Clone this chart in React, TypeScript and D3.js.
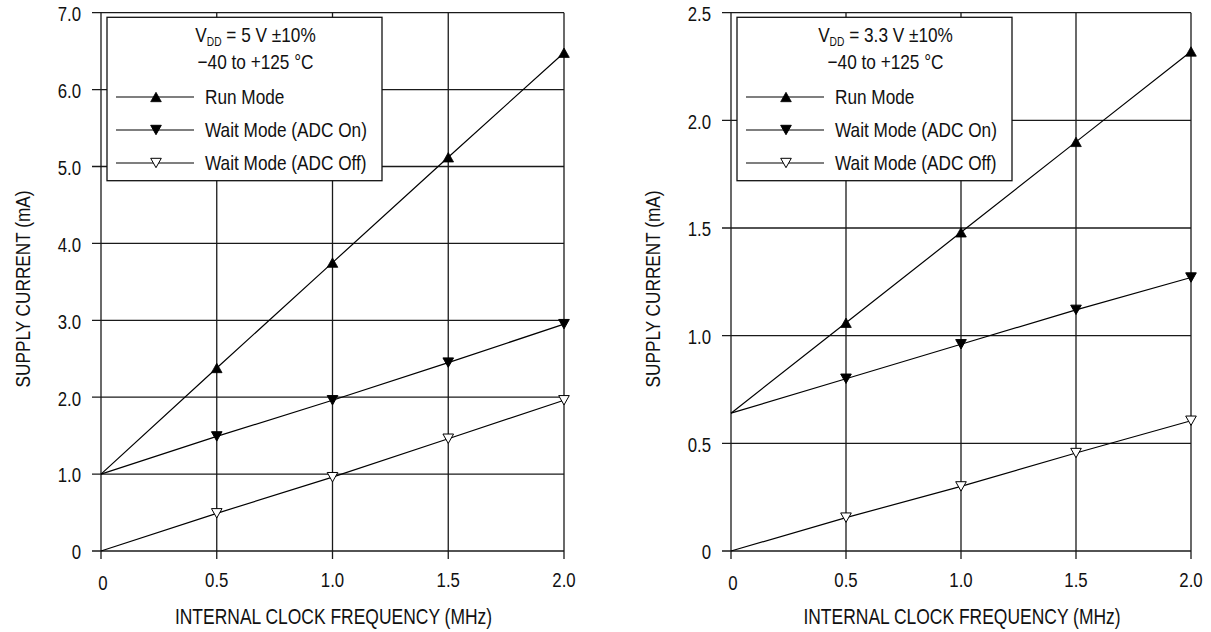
import React from 'react';
import * as d3 from 'd3';

const freqs = [0, 0.5, 1.0, 1.5, 2.0];
const xTicks = [0, 0.5, 1.0, 1.5, 2.0];
const xTickLabels = ['0', '0.5', '1.0', '1.5', '2.0'];

const leftRun = [1.0, 2.38, 3.75, 5.12, 6.48];
const leftWaitOn = [1.0, 1.49, 1.96, 2.45, 2.95];
const leftWaitOff = [0, 0.49, 0.96, 1.46, 1.96];
const leftYTicks = [0, 1, 2, 3, 4, 5, 6, 7];
const leftYTickLabels = ['0', '1.0', '2.0', '3.0', '4.0', '5.0', '6.0', '7.0'];

const rightRun = [0.64, 1.06, 1.48, 1.90, 2.32];
const rightWaitOn = [0.64, 0.80, 0.96, 1.12, 1.27];
const rightWaitOff = [0, 0.155, 0.30, 0.455, 0.605];
const rightYTicks = [0, 0.5, 1.0, 1.5, 2.0, 2.5];
const rightYTickLabels = ['0', '0.5', '1.0', '1.5', '2.0', '2.5'];

const seriesNames = ['Run Mode', 'Wait Mode (ADC On)', 'Wait Mode (ADC Off)'];
const markerKinds = ['up', 'down', 'downOpen'];

const FONT = "'Liberation Sans',Arial,sans-serif";
const SX = 0.82;

function NText({
  x,
  y,
  size,
  anchor = 'start',
  rotate = 0,
  children,
}: {
  x: number;
  y: number;
  size: number;
  anchor?: string;
  rotate?: number;
  children: React.ReactNode;
}) {
  return (
    <text
      transform={`translate(${x},${y}) rotate(${rotate}) scale(${SX},1)`}
      textAnchor={anchor}
      fontSize={size}
      fontFamily={FONT}
      fill="#111"
    >
      {children}
    </text>
  );
}

type PanelProps = {
  px: [number, number];
  yMax: number;
  yTicks: number[];
  yTickLabels: string[];
  series: number[][];
  vdd: string;
};

function Marker({ kind, x, y }: { kind: string; x: number; y: number }) {
  const w = 5.3;
  const h = 4.7;
  if (kind === 'up') {
    return <path d={`M${x},${y - h}L${x + w},${y + h}L${x - w},${y + h}Z`} fill="#000" stroke="#000" strokeWidth={0.8} />;
  }
  const fill = kind === 'down' ? '#000' : '#fff';
  return <path d={`M${x - w},${y - h}L${x + w},${y - h}L${x},${y + h}Z`} fill={fill} stroke="#000" strokeWidth={1} />;
}

function Panel({ px, yMax, yTicks, yTickLabels, series, vdd }: PanelProps) {
  const x = d3.scaleLinear().domain([0, 2]).range(px);
  const y = d3.scaleLinear().domain([0, yMax]).range([551, 12.7]);
  const line = d3
    .line<number>()
    .x((_, i) => x(freqs[i]))
    .y((d) => y(d));
  const left = px[0];
  const bx = left + 6;
  const by = 17.3;
  const bw = 275;
  const bh = 163.4;
  const gridStroke = '#1a1a1a';
  return (
    <g>
      {yTicks.map((t, i) => (
        <g key={'y' + i}>
          <line x1={left - 9} x2={px[1]} y1={y(t)} y2={y(t)} stroke={gridStroke} strokeWidth={1.3} />
          <NText x={left - 20} y={y(t) + 8.3} size={20.5} anchor="end">
            {yTickLabels[i]}
          </NText>
        </g>
      ))}
      {xTicks.map((t, i) => (
        <g key={'x' + i}>
          <line x1={x(t)} x2={x(t)} y1={y(yMax)} y2={559} stroke={gridStroke} strokeWidth={1.3} />
          <NText x={x(t) + (i === 0 ? 2 : 0)} y={i === 0 ? 589.5 : 587} size={20.5} anchor="middle">
            {xTickLabels[i]}
          </NText>
        </g>
      ))}
      <rect x={bx} y={by} width={bw} height={bh} fill="#fff" stroke="#111" strokeWidth={1.3} />
      <NText x={bx + 148.5} y={42} size={21} anchor="middle">
        V<tspan fontSize={12.5} dy={3.5}>DD</tspan>
        <tspan dy={-3.5}>{` = ${vdd} V ±10%`}</tspan>
      </NText>
      <NText x={bx + 148.5} y={68.5} size={21} anchor="middle">
        −40 to +125 °C
      </NText>
      {seriesNames.map((name, i) => {
        const ly = 97 + i * 33;
        return (
          <g key={'l' + i}>
            <line x1={bx + 9} x2={bx + 87} y1={ly} y2={ly} stroke="#000" strokeWidth={1.2} />
            <Marker kind={markerKinds[i]} x={bx + 49} y={ly} />
            <NText x={bx + 98} y={ly + 6.7} size={21}>
              {name}
            </NText>
          </g>
        );
      })}
      {series.map((s, si) => (
        <g key={'s' + si}>
          <path d={line(s) || ''} fill="none" stroke="#000" strokeWidth={1.2} />
          {s.map((v, i) =>
            i === 0 ? null : <Marker key={i} kind={markerKinds[si]} x={x(freqs[i])} y={y(v)} />
          )}
        </g>
      ))}
      <NText x={(px[0] + px[1]) / 2 + 1} y={624} size={21.3} anchor="middle">
        INTERNAL CLOCK FREQUENCY (MHz)
      </NText>
      <NText x={left - 71} y={289} size={21} anchor="middle" rotate={-90}>
        SUPPLY CURRENT (mA)
      </NText>
    </g>
  );
}

export default function App() {
  return (
    <svg
      width={1211}
      height={632}
      style={{ position: 'absolute', left: 0, top: 0, background: '#fff' }}
    >
      <rect width={1211} height={632} fill="#fff" />
      <Panel
        px={[101, 564]}
        yMax={7}
        yTicks={leftYTicks}
        yTickLabels={leftYTickLabels}
        series={[leftRun, leftWaitOn, leftWaitOff]}
        vdd="5"
      />
      <Panel
        px={[731, 1191]}
        yMax={2.5}
        yTicks={rightYTicks}
        yTickLabels={rightYTickLabels}
        series={[rightRun, rightWaitOn, rightWaitOff]}
        vdd="3.3"
      />
    </svg>
  );
}
